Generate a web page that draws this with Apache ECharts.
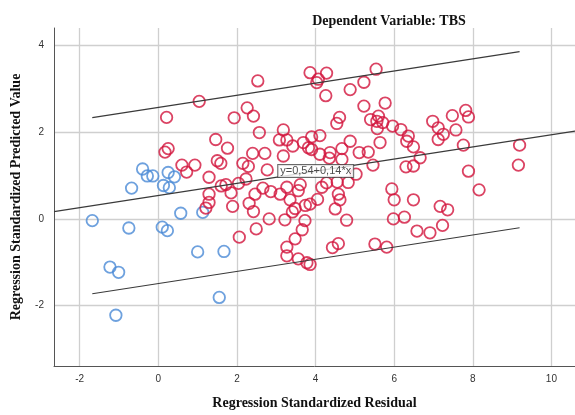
<!DOCTYPE html>
<html>
<head>
<meta charset="utf-8">
<script src="https://cdn.jsdelivr.net/npm/echarts@6/dist/echarts.min.js"></script>
<style>
  html, body { margin: 0; padding: 0; background: #ffffff; }
  #chart { width: 575px; height: 415px; }
</style>
</head>
<body>
<div id="chart"></div>
<script>
// Residual (x) and predicted value (y) pairs, group A (red)
const redX = [2.53, 1.04, 0.21, 2.26, 2.42, 1.93, 3.86, 4.07, 4.03, 4.28, 5.54, 5.23, 4.88, 4.26, 5.77, 5.23, 4.61, 4.54, 5.40, 5.60,
  5.56, 5.71, 5.57, 5.96, 6.98, 7.12, 7.48, 7.57, 7.82, 7.89, 3.18, 2.57, 3.08, 3.27, 3.42, 1.46, 1.76, 0.17, 0.25, 2.40,
  2.71, 3.18, 1.50, 1.59, 2.15, 2.29, 0.60, 0.93, 0.72, 2.77, 1.29, 3.69, 3.90, 4.11, 3.82, 3.90, 4.11, 4.37, 4.67, 4.88,
  5.64, 5.11, 5.34, 4.35, 4.67, 5.46, 5.03, 4.83, 4.55, 4.28, 3.61, 6.17, 6.36, 6.32, 6.49, 6.66, 6.30, 6.49, 7.25, 7.12,
  7.76, 7.89, 9.19, 9.16, 1.60, 1.72, 2.04, 2.23, 2.66, 1.29, 1.29, 1.21, 1.85, 1.89, 2.31, 2.42, 2.06, 2.49, 2.82, 3.22,
  2.86, 3.10, 3.27, 3.35, 3.48, 3.41, 3.48, 3.27, 3.27, 3.56, 3.66, 3.73, 3.78, 3.86, 2.46, 3.56, 4.16, 5.94, 6.00, 6.49,
  7.17, 7.36, 8.16, 5.98, 6.26, 6.58, 6.91, 7.23, 4.79, 5.51, 5.81, 4.43, 4.58, 4.50, 4.62, 4.58, 4.05, 3.86, 3.74];
const redY = [3.18, 2.71, 2.34, 2.56, 2.37, 2.33, 3.37, 3.22, 3.14, 3.36, 3.45, 3.15, 2.98, 2.84, 2.67, 2.60, 2.34, 2.20, 2.29, 2.37,
  2.25, 2.22, 2.08, 2.14, 2.25, 2.10, 2.38, 2.05, 2.50, 2.35, 2.05, 1.99, 1.82, 1.82, 1.68, 1.83, 1.63, 1.54, 1.62, 1.51,
  1.51, 1.45, 1.34, 1.28, 1.28, 1.21, 1.24, 1.24, 1.08, 1.13, 0.96, 1.76, 1.89, 1.92, 1.64, 1.60, 1.49, 1.53, 1.62, 1.79,
  1.76, 1.53, 1.54, 1.40, 1.37, 1.24, 1.03, 0.84, 0.85, 0.83, 0.79, 2.06, 1.91, 1.79, 1.66, 1.41, 1.20, 1.22, 1.95, 1.83,
  1.70, 1.10, 1.70, 1.24, 0.76, 0.79, 0.82, 0.92, 0.71, 0.57, 0.38, 0.25, 0.60, 0.29, 0.36, 0.17, -0.42, -0.23, 0.00, -0.02,
  0.63, 0.57, 0.73, 0.44, 0.24, 0.16, -0.46, -0.65, -0.85, -0.92, -0.25, -0.04, -1.01, -1.05, 0.57, 0.65, 0.73, 0.69, 0.44, 0.44,
  0.29, 0.21, 0.67, 0.00, 0.04, -0.28, -0.32, -0.15, -0.03, -0.58, -0.65, -0.66, -0.57, 0.23, 0.44, 0.57, 0.45, 0.34, 0.31];

// Group B (blue)
const blueX = [-0.40, -0.28, -0.14, 0.25, 0.41, -0.68, 0.13, 0.28, -1.68, -0.75, 0.10, 0.23, 0.57, 1.13, 1.00, 1.67, -1.23, -1.01, 1.55, -1.08];
const blueY = [1.15, 0.99, 0.99, 1.07, 0.97, 0.71, 0.77, 0.72, -0.04, -0.21, -0.19, -0.27, 0.13, 0.15, -0.76, -0.75, -1.11, -1.23, -1.81, -2.22];

// Fitted line y = a + b*x and half-width of the prediction band
const fitIntercept = 0.54;
const fitSlope = 0.14;
const bandHalfWidth = 2.03;
const fitLabelX = 3.05;

// Visible axis extents
const xAxisMin = -2.654, xAxisMax = 10.6;
const yAxisMin = -3.39, yAxisMax = 4.40;

const fit = x => fitIntercept + fitSlope * x;
const pairs = (xs, ys) => xs.map((x, i) => [x, ys[i]]);
const allX = redX.concat(blueX);
const dataMinX = Math.min(...allX), dataMaxX = Math.max(...allX);
const fmt = v => v.toFixed(2).replace('.', ',');

const serif = '"Liberation Serif", "Times New Roman", serif';
const sans = '"Liberation Sans", Arial, sans-serif';

const circleStyle = color => ({
  type: 'scatter',
  symbol: 'circle',
  symbolSize: 11.5,
  itemStyle: { color: 'rgba(0,0,0,0)', borderColor: color, borderWidth: 1.8 },
  emphasis: { disabled: true },
  z: 3
});

const lineSeries = (data) => ({
  type: 'line',
  data: data,
  symbol: 'none',
  lineStyle: { color: '#3a3a3a', width: 1.2 },
  silent: true,
  z: 4
});

const chart = echarts.init(document.getElementById('chart'), null, { renderer: 'canvas' });
chart.setOption({
  animation: false,
  backgroundColor: '#ffffff',
  title: {
    text: 'Dependent Variable: TBS',
    left: 384,
    top: 9,
    textAlign: 'center',
    textStyle: { fontFamily: serif, fontWeight: 'bold', fontSize: 14, color: '#111' }
  },
  grid: { left: 54, right: 0, top: 28, bottom: 47, containLabel: false },
  xAxis: {
    type: 'value',
    min: xAxisMin, max: xAxisMax,
    splitNumber: 7, minInterval: 2, maxInterval: 2,
    name: 'Regression Standardized Residual',
    nameLocation: 'middle',
    nameGap: 30,
    nameTextStyle: { fontFamily: serif, fontWeight: 'bold', fontSize: 14, color: '#111' },
    axisLine: { show: true, onZero: false, lineStyle: { color: '#555', width: 1 } },
    axisTick: { show: false },
    axisLabel: { fontFamily: sans, fontSize: 10, color: '#333', margin: 8, showMinLabel: false, showMaxLabel: false },
    splitLine: { show: true, showMinLine: false, showMaxLine: false, lineStyle: { color: '#cfcfcf', width: 1.3 } }
  },
  yAxis: {
    type: 'value',
    min: yAxisMin, max: yAxisMax,
    splitNumber: 4, minInterval: 2, maxInterval: 2,
    name: 'Regression Standardized Predicted Value',
    nameLocation: 'middle',
    nameGap: 31,
    nameRotate: 90,
    nameTextStyle: { fontFamily: serif, fontWeight: 'bold', fontSize: 14, color: '#111' },
    axisLine: { show: true, onZero: false, lineStyle: { color: '#555', width: 1 } },
    axisTick: { show: false },
    axisLabel: { fontFamily: sans, fontSize: 10, color: '#333', margin: 10, showMinLabel: false, showMaxLabel: false },
    splitLine: { show: true, showMinLine: false, showMaxLine: false, lineStyle: { color: '#cfcfcf', width: 1.3 } }
  },
  series: [
    Object.assign(circleStyle('#4a8ad6'), { data: pairs(blueX, blueY) }),
    Object.assign(circleStyle('#d2143c'), { data: pairs(redX, redY) }),
    lineSeries([[xAxisMin, fit(xAxisMin)], [xAxisMax, fit(xAxisMax)]]),
    lineSeries([[dataMinX, fit(dataMinX) + bandHalfWidth], [dataMaxX, fit(dataMaxX) + bandHalfWidth]]),
    lineSeries([[dataMinX, fit(dataMinX) - bandHalfWidth], [dataMaxX, fit(dataMaxX) - bandHalfWidth]]),
    {
      type: 'scatter',
      data: [[fitLabelX, fit(fitLabelX)]],
      symbolSize: 0,
      silent: true,
      z: 10,
      label: {
        show: true,
        position: [0, 0],
        align: 'left',
        verticalAlign: 'bottom',
        formatter: 'y=' + fmt(fitIntercept) + '+' + fmt(fitSlope) + '*x',
        fontFamily: sans,
        fontSize: 11,
        color: '#222',
        backgroundColor: '#ffffff',
        borderColor: '#444',
        borderWidth: 1,
        padding: [1, 2, 0, 2]
      }
    }
  ]
});
</script>
</body>
</html>
